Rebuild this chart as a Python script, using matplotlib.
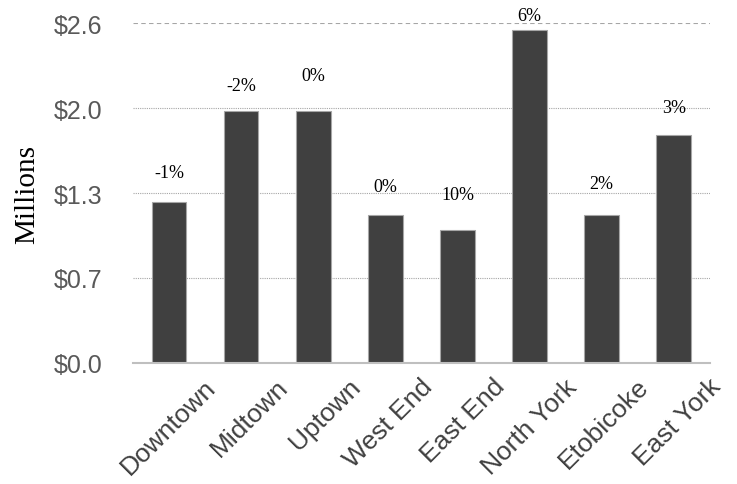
import numpy as np
import matplotlib.pyplot as plt

areas = ["Downtown", "Midtown", "Uptown", "West End", "East End",
         "North York", "Etobicoke", "East York"]
prices = [1.23, 1.93, 1.93, 1.13, 1.02, 2.55, 1.13, 1.74]
changes = ["-1%", "-2%", "0%", "0%", "10%", "6%", "2%", "3%"]
yticks = [0.0, 0.65, 1.3, 1.95, 2.6]
ytick_labels = ["$0.0", "$0.7", "$1.3", "$2.0", "$2.6"]

# how far above each bar its label sits (points)
label_pad = [21, 18, 25, 21, 25, 10, 23, 20]

fig = plt.figure(figsize=(7.37, 4.85), dpi=100)
ax = fig.add_axes([0.1805, 0.2495, 0.7825, 0.701])

x = np.arange(len(areas))
ax.bar(x, prices, width=0.48, color="#404040", edgecolor="#a6a6a6",
       linewidth=0.8, zorder=3)

ax.set_xlim(-0.5, len(areas) - 0.5)
ax.set_ylim(0, 2.6)

for yv in yticks[1:-1]:
    ax.axhline(yv, color="#a6a6a6", lw=0.8, ls=(0, (1, 1)), zorder=1)
ax.axhline(yticks[-1], color="#a6a6a6", lw=0.8, ls=(0, (4, 3)), zorder=1)

for xi, p, c, pad in zip(x, prices, changes, label_pad):
    ax.annotate(c, (xi, p), xytext=(0, pad), textcoords="offset points",
                ha="center", va="center", fontsize=13,
                family="Liberation Serif", color="#000000")

ax.set_yticks(yticks)
ax.set_yticklabels(ytick_labels, fontsize=18, family="Liberation Sans",
                   color="#595959")

# category labels, rotated like the original
ax.set_xticks(x)
ax.set_xticklabels([])
for xi, name in zip(x, areas):
    ax.annotate(name, (xi, 0), xytext=(25, -8), textcoords="offset points",
                ha="right", va="top", rotation=45, rotation_mode="anchor",
                fontsize=19, family="Liberation Sans", color="#404040",
                annotation_clip=False)

ax.tick_params(axis="both", length=0)
ax.tick_params(axis="y", pad=22)
ax.set_ylabel("Millions", fontsize=21, family="Liberation Serif",
              labelpad=10)

for s in ["top", "right", "left"]:
    ax.spines[s].set_visible(False)
ax.spines["bottom"].set_color("#bfbfbf")
ax.spines["bottom"].set_linewidth(1.5)
ax.spines["bottom"].set_zorder(4)

fig.savefig("out.png", dpi=100)
